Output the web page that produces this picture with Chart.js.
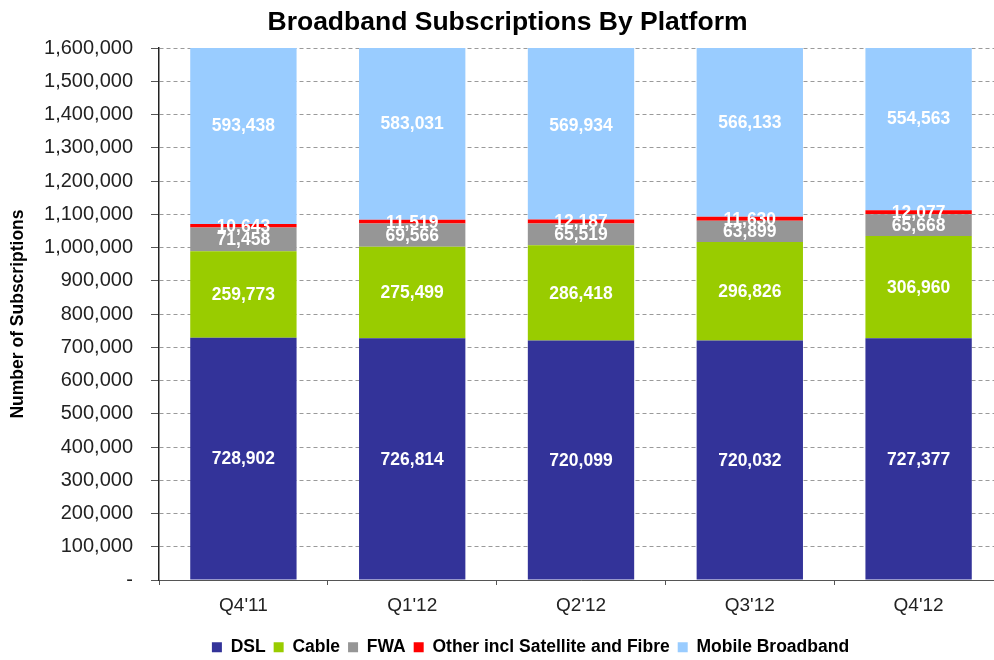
<!DOCTYPE html>
<html>
<head>
<meta charset="utf-8">
<script src="https://cdn.jsdelivr.net/npm/chart.js@4.4.1/dist/chart.umd.min.js"></script>
<style>
html,body{margin:0;padding:0;background:#fff;overflow:hidden;}
canvas{display:block;}
</style>
</head>
<body>
<canvas id="c" width="1003" height="660"></canvas>
<script>
const categories = ["Q4'11", "Q1'12", "Q2'12", "Q3'12", "Q4'12"];
const dsl = [728902, 726814, 720099, 720032, 727377];
const cable = [259773, 275499, 286418, 296826, 306960];
const fwa = [71458, 69566, 65519, 63899, 65668];
const other = [10643, 11519, 12187, 11630, 12077];
const mobile = [593438, 583031, 569934, 566133, 554563];
const seriesNames = ["DSL", "Cable", "FWA", "Other incl Satellite and Fibre", "Mobile Broadband"];
const yTicks = [0,100000,200000,300000,400000,500000,600000,700000,800000,900000,1000000,1100000,1200000,1300000,1400000,1500000,1600000];

const FONT = "'Liberation Sans', Arial, sans-serif";
const colors = ['#333399', '#99CC00', '#969696', '#FF0000', '#99CCFF'];
const values = [dsl, cable, fwa, other, mobile];

const fmt = v => v.toLocaleString('en-US');

const labelPlugin = {
  id: 'segLabels',
  afterDatasetsDraw(chart) {
    const ctx = chart.ctx;
    ctx.save();
    ctx.font = "bold 17.5px " + FONT;
    ctx.fillStyle = '#ffffff';
    ctx.textAlign = 'center';
    ctx.textBaseline = 'middle';
    chart.data.datasets.forEach((ds, di) => {
      const meta = chart.getDatasetMeta(di);
      meta.data.forEach((bar, i) => {
        const p = bar.getProps(['x', 'y', 'base'], true);
        ctx.fillText(fmt(ds.data[i]), p.x, (p.y + p.base) / 2 + 1);
      });
    });
    ctx.restore();
  }
};

const shiftPlugin = {
  id: 'shift',
  afterLayout(chart) {
    const L = chart.legend;
    if (L) { L.left += 29; L.right += 29; L.top += 6; L.bottom += 6; }
    const T = chart.titleBlock;
    if (T) { T.left += 6; T.right += 6; }
  }
};

new Chart(document.getElementById('c'), {
  type: 'bar',
  data: {
    labels: categories,
    datasets: values.map((d, i) => ({
      label: seriesNames[i],
      data: d,
      backgroundColor: colors[i],
      borderWidth: 0,
      categoryPercentage: 1,
      barPercentage: 0.63
    }))
  },
  options: {
    responsive: false,
    animation: false,
    layout: { padding: 0 },
    plugins: {
      title: {
        display: true,
        text: 'Broadband Subscriptions By Platform',
        color: '#000',
        font: { family: FONT, size: 26.5, weight: 'bold' },
        padding: { top: 6.5, bottom: 9.7 }
      },
      legend: {
        position: 'bottom',
        labels: {
          color: '#000',
          font: { family: FONT, size: 17.5, weight: 'bold' },
          boxWidth: 10,
          boxHeight: 10,
          padding: 8
        }
      },
      tooltip: { enabled: false }
    },
    scales: {
      x: {
        stacked: true,
        afterFit(s) { s.height = 44.5; },
        grid: { offset: true, drawOnChartArea: false, drawTicks: true, tickLength: 5, color: '#555', tickColor: '#555' },
        border: { color: '#555', width: 1 },
        ticks: { color: '#222', font: { family: FONT, size: 19 }, padding: 9 }
      },
      y: {
        stacked: true,
        min: 0,
        max: 1600000,
        afterFit(s) { s.width = 159; },
        afterBuildTicks(s) { s.ticks = yTicks.map(v => ({ value: v })); },
        grid: { color: '#9a9a9a', lineWidth: 1, tickLength: 8, tickColor: '#555', drawTicks: true },
        border: { color: '#222', width: 1.5, dash: [4, 3] },
        ticks: {
          color: '#222',
          font: { family: FONT, size: 20 },
          padding: 18,
          callback: v => v === 0 ? '-' : fmt(v)
        },
        title: {
          display: true,
          text: 'Number of Subscriptions',
          color: '#000',
          font: { family: FONT, size: 17.5, weight: 'bold' },
          padding: { top: 8, bottom: 0 }
        }
      }
    }
  },
  plugins: [labelPlugin, shiftPlugin]
});
</script>
</body>
</html>
